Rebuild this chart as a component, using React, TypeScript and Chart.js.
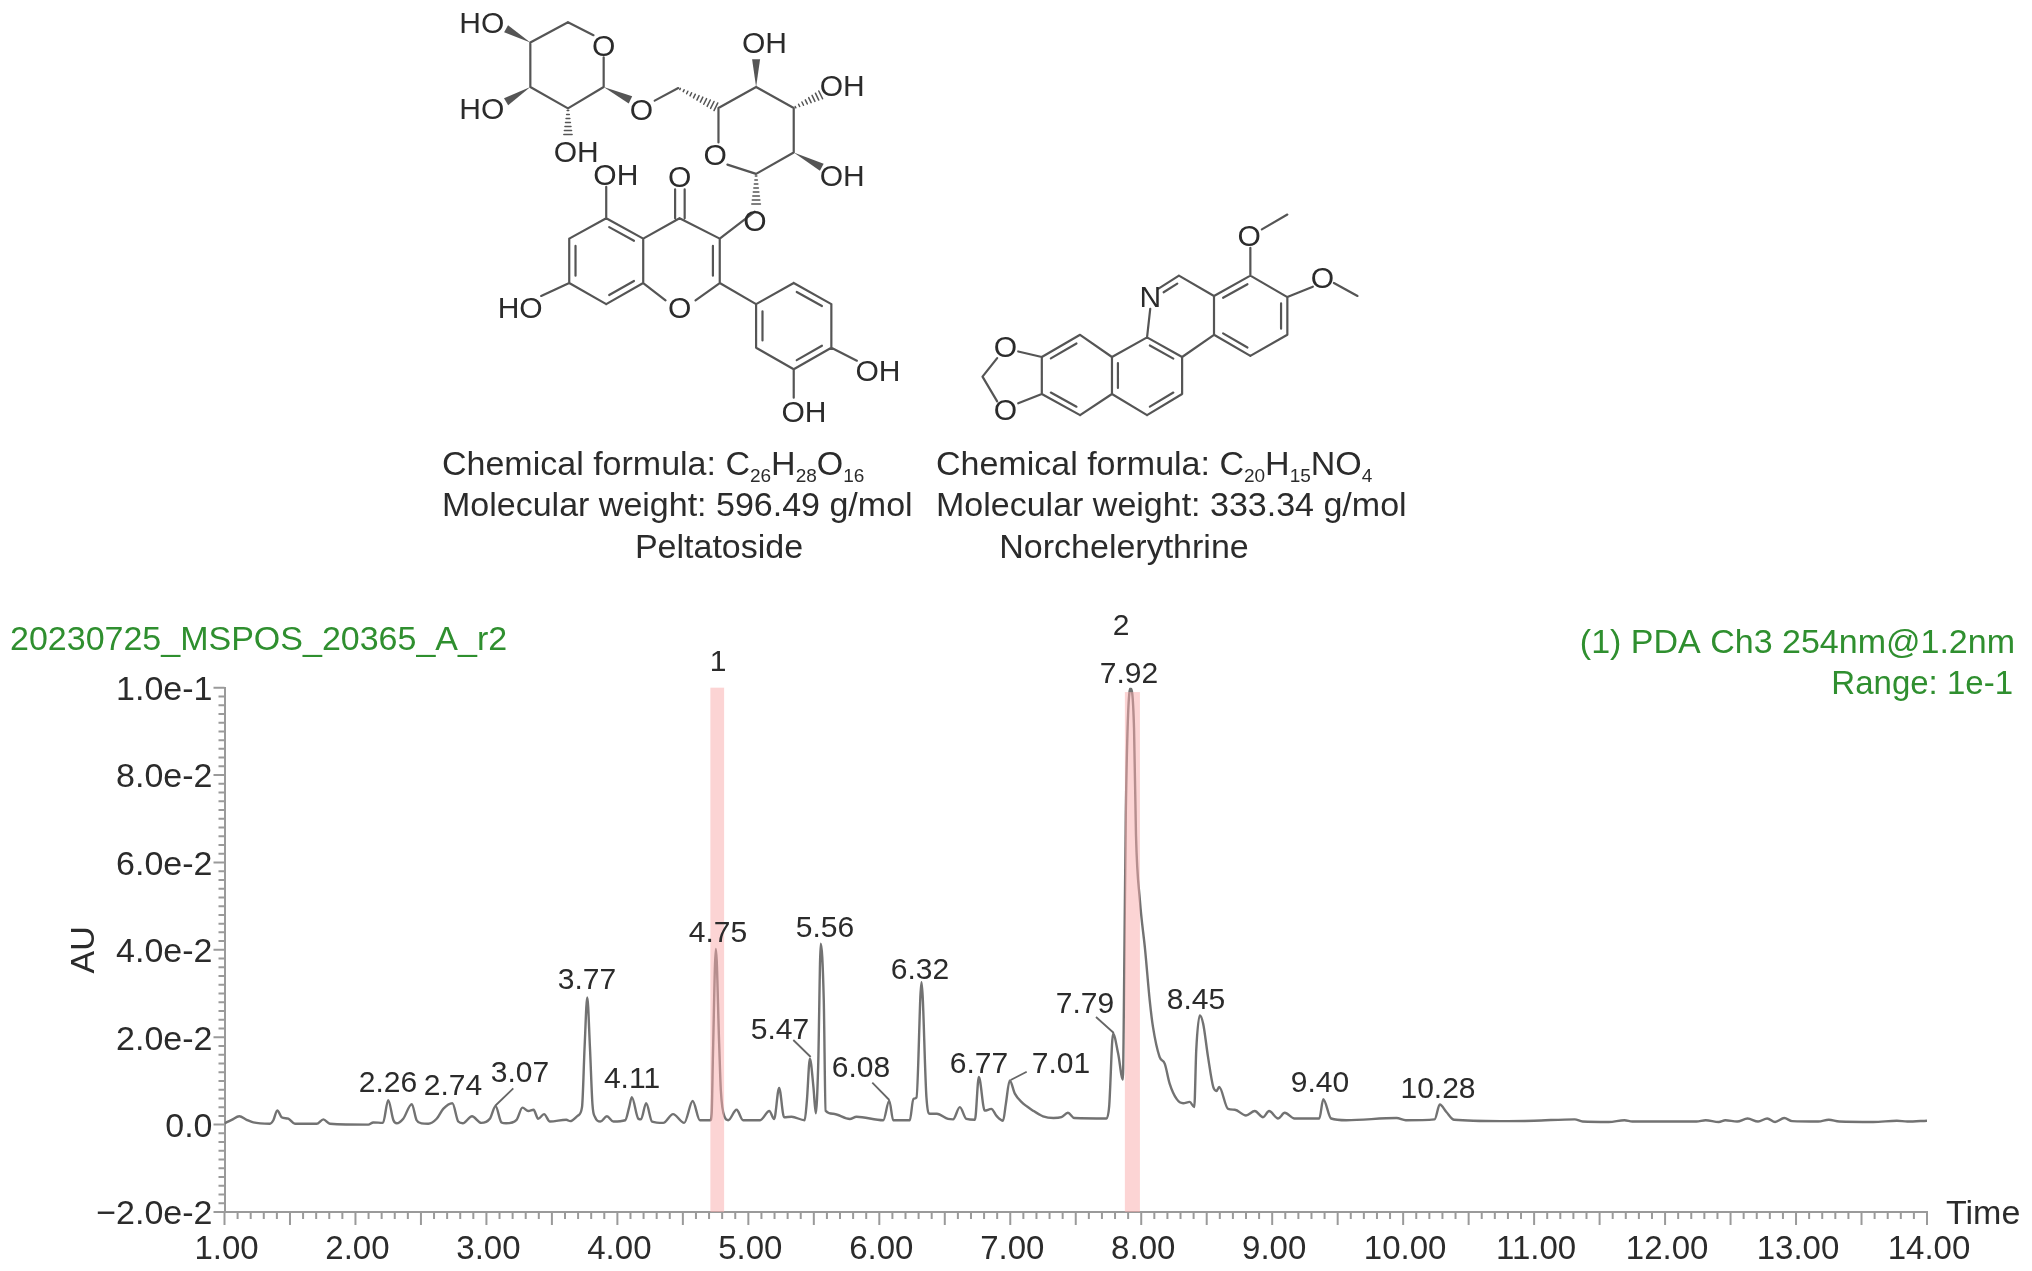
import React, { useEffect, useRef } from "react";
import { Chart, registerables } from "chart.js";

Chart.register(...registerables);

const FONT = '"Liberation Sans", Arial, sans-serif';

// ---------- data ----------
const times = [
  1.0, 1.055, 1.113, 1.169, 1.22, 1.347, 1.373, 1.403, 1.436, 1.487, 1.538, 1.704, 1.755, 1.805, 2.098, 2.136, 2.21, 2.25, 2.29, 2.315,
  2.365, 2.43, 2.467, 2.505, 2.556, 2.62, 2.67, 2.74, 2.785, 2.82, 2.89, 2.96, 3.026, 3.07, 3.115, 3.15, 3.23, 3.275, 3.32, 3.36,
  3.395, 3.44, 3.485, 3.61, 3.64, 3.7, 3.73, 3.75, 3.77, 3.79, 3.81, 3.83, 3.87, 3.92, 3.97, 4.06, 4.09, 4.11, 4.16, 4.18,
  4.22, 4.265, 4.35, 4.425, 4.51, 4.575, 4.63, 4.71, 4.72, 4.73, 4.752, 4.777, 4.79, 4.82, 4.846, 4.91, 4.96, 5.09, 5.16, 5.197,
  5.235, 5.273, 5.33, 5.43, 5.447, 5.47, 5.497, 5.515, 5.533, 5.553, 5.576, 5.59, 5.647, 5.775, 5.826, 6.03, 6.076, 6.106, 6.233, 6.26,
  6.284, 6.322, 6.36, 6.385, 6.44, 6.525, 6.563, 6.615, 6.665, 6.73, 6.76, 6.805, 6.855, 6.895, 6.945, 6.966, 6.996, 7.035, 7.085, 7.174,
  7.25, 7.33, 7.39, 7.44, 7.49, 7.735, 7.755, 7.785, 7.824, 7.86, 7.866, 7.882, 7.918, 7.945, 7.96, 7.99, 8.03, 8.065, 8.09, 8.14,
  8.18, 8.217, 8.27, 8.32, 8.37, 8.405, 8.42, 8.447, 8.473, 8.51, 8.55, 8.575, 8.595, 8.663, 8.715, 8.8, 8.867, 8.93, 8.976, 9.045,
  9.096, 9.17, 9.36, 9.39, 9.45, 9.566, 9.95, 10.02, 10.24, 10.28, 10.33, 10.39, 10.74, 11.0, 11.31, 11.37, 11.57, 11.69, 11.75, 12.24,
  12.31, 12.41, 12.46, 12.55, 12.63, 12.71, 12.78, 12.84, 12.91, 12.97, 13.17, 13.25, 13.33, 13.59, 13.77, 13.85, 14.0,
];
const absorbance = [
  0.0003, 0.0011, 0.0019, 0.0011, 0.0005, 0.0002, 0.001, 0.00325, 0.0017, 0.00135, 0.0002, 0.0002, 0.0012, 0.0002, 0.0, 0.0005, 0.0004, 0.0056, 0.001, 0.0003,
  0.00135, 0.0047, 0.001, 0.0003, 0.0002, 0.00135, 0.0036, 0.0049, 0.0007, 0.0003, 0.0019, 0.0004, 0.00135, 0.0042, 0.0005, 0.0003, 0.0011, 0.0039, 0.0031, 0.0034,
  0.00135, 0.0024, 0.0007, 0.0011, 0.0008, 0.0021, 0.004, 0.018, 0.0291, 0.018, 0.0045, 0.0017, 0.0007, 0.0019, 0.0007, 0.001, 0.004, 0.0063, 0.00135, 0.0012,
  0.0049, 0.0007, 0.0004, 0.0024, 0.0004, 0.0054, 0.001, 0.001, 0.0026, 0.0163, 0.0402, 0.0186, 0.0078, 0.0017, 0.001, 0.0034, 0.001, 0.001, 0.0031, 0.0013,
  0.0084, 0.0017, 0.0018, 0.001, 0.0055, 0.0151, 0.0086, 0.0026, 0.0132, 0.0414, 0.0284, 0.0032, 0.0025, 0.0013, 0.0018, 0.001, 0.0055, 0.001, 0.001, 0.0059,
  0.0062, 0.0326, 0.0062, 0.0025, 0.0025, 0.0013, 0.0012, 0.004, 0.0013, 0.0011, 0.0109, 0.0032, 0.0036, 0.002, 0.0009, 0.0047, 0.0101, 0.0071, 0.0052, 0.0032,
  0.0019, 0.0015, 0.0017, 0.0027, 0.0015, 0.0014, 0.0041, 0.0208, 0.0162, 0.0103, 0.022, 0.071, 0.0999, 0.0907, 0.0662, 0.0513, 0.0399, 0.0284, 0.0223, 0.0155,
  0.0139, 0.0094, 0.0059, 0.0049, 0.0052, 0.004, 0.017, 0.025, 0.0231, 0.0155, 0.0086, 0.0077, 0.0086, 0.0036, 0.0034, 0.0021, 0.0031, 0.0017, 0.0031, 0.0014,
  0.0027, 0.0014, 0.0014, 0.0058, 0.0014, 0.001, 0.0015, 0.001, 0.0012, 0.0046, 0.0029, 0.0011, 0.0008, 0.0009, 0.0012, 0.0007, 0.0006, 0.001, 0.0007, 0.0007,
  0.001, 0.0006, 0.001, 0.0007, 0.0014, 0.0007, 0.0014, 0.0006, 0.0015, 0.0008, 0.0007, 0.0011, 0.0007, 0.0006, 0.0009, 0.0007, 0.0009,
];
const xTickLabels = ["1.00", "2.00", "3.00", "4.00", "5.00", "6.00", "7.00", "8.00", "9.00", "10.00", "11.00", "12.00", "13.00", "14.00"];
const yTickLabels = ["\u22122.0e-2", "0.0", "2.0e-2", "4.0e-2", "6.0e-2", "8.0e-2", "1.0e-1"];
const bandStart = [4.71, 7.875];
const bandEnd = [4.815, 7.99];
const bandTop = [0.1, 0.099];
const peakLabels = ["2.26", "2.74", "3.07", "3.77", "4.11", "4.75", "5.47", "5.56", "6.08", "6.32", "6.77", "7.01", "7.79", "7.92", "8.45", "9.40", "10.28"];
const titleLeft = "20230725_MSPOS_20365_A_r2";
const titleRight = "(1) PDA Ch3 254nm@1.2nm";
const rangeText = "Range: 1e-1";

// ---------- layout (pixels) ----------
const AREA = { left: 224.5, right: 1927, top: 687.7, bottom: 1212 };
const peakLabelPos = [
  [388, 1084], [453, 1087], [520, 1074], [587, 981], [632, 1080], [718, 934], [780, 1031], [825, 929], [861, 1069],
  [920, 971], [979, 1065], [1061, 1065], [1085, 1005], [1129, 675], [1196, 1001], [1320, 1084], [1438, 1090],
];
const leaders = [
  [513.3, 1088.3, 495, 1106],
  [793.3, 1040, 810.7, 1057],
  [872.3, 1082.7, 889.3, 1100],
  [1026.7, 1071.7, 1010.7, 1080],
  [1096, 1017, 1113.8, 1033],
];

const mx = (z: number) => 420 + z / 1.568;
const my = (z: number) => z / 2.703;
type Seg = number[];
const bonds: Seg[] = [
  [173, 115, 232, 60], [232, 60, 272, 95], [288, 155, 288, 235], [288, 235, 232, 293], [232, 293, 173, 235], [173, 235, 173, 115],
  [368, 272, 405, 238],
  [468, 292, 527, 235], [527, 235, 586, 292], [586, 292, 586, 412], [586, 412, 527, 470], [527, 470, 482, 445], [468, 385, 468, 292],
  [525, 572, 470, 645], [292, 590, 292, 505],
  [407, 590, 350, 645], [350, 645, 292, 590], [292, 590, 234, 645], [234, 645, 234, 765], [234, 765, 292, 822], [292, 822, 350, 765], [350, 765, 350, 645],
  [407, 590, 470, 645], [470, 645, 470, 765], [470, 765, 432, 812], [385, 812, 350, 765], [234, 765, 190, 800],
  [470, 765, 527, 822], [527, 822, 586, 765], [586, 765, 645, 822], [645, 822, 645, 940], [645, 940, 586, 998], [586, 998, 527, 940], [527, 940, 527, 822],
  [645, 940, 685, 975], [586, 998, 586, 1075],
  [400, 590, 400, 512], [415, 590, 415, 512],
  [1320, 620, 1360, 580], [1302, 670, 1302, 745], [1302, 745, 1360, 803], [1360, 803, 1360, 905], [1360, 905, 1302, 962], [1302, 962, 1245, 905], [1245, 905, 1245, 800], [1245, 800, 1302, 745],
  [1360, 803, 1400, 775], [1433, 765, 1470, 800], [1245, 800, 1190, 745], [1190, 745, 1158, 780], [1145, 835, 1140, 912],
  [1140, 912, 1195, 965], [1245, 905, 1195, 965], [1195, 965, 1195, 1065], [1195, 1065, 1140, 1122], [1140, 1122, 1085, 1065], [1085, 1065, 1085, 965], [1085, 965, 1140, 912],
  [1085, 965, 1035, 905], [1035, 905, 975, 965], [975, 965, 975, 1065], [975, 1065, 1035, 1122], [1035, 1122, 1085, 1065],
  [975, 965, 938, 950], [975, 1065, 938, 1090], [905, 968, 882, 1018], [905, 1085, 882, 1018],
];
const doubles: Seg[] = [
  [234, 645, 234, 765, 292, 705], [292, 822, 350, 765, 292, 705], [350, 645, 292, 590, 292, 705], [470, 645, 470, 765, 407, 705],
  [586, 765, 645, 822, 586, 880], [645, 940, 586, 998, 586, 880], [527, 940, 527, 822, 586, 880],
  [1245, 800, 1302, 745, 1302, 855], [1360, 803, 1360, 905, 1302, 855], [1302, 962, 1245, 905, 1302, 855],
  [1190, 745, 1158, 780, 1190, 855],
  [1140, 912, 1195, 965, 1140, 1015], [1195, 1065, 1140, 1122, 1140, 1015], [1085, 1065, 1085, 965, 1140, 1015],
  [1035, 905, 975, 965, 1030, 1015], [975, 1065, 1035, 1122, 1030, 1015],
];
const solidWedges: Seg[] = [
  [173, 115, 135, 78], [173, 235, 135, 275], [288, 235, 330, 270], [527, 235, 527, 160], [586, 412, 630, 452],
];
const hashWedges: Seg[] = [
  [232, 293, 232, 370], [405, 238, 468, 292], [586, 292, 630, 255], [527, 470, 527, 555],
];
const atomLabels: [string, number, number][] = [
  ["HO", 97, 68], ["O", 288, 130], ["HO", 97, 298], ["OH", 245, 415], ["O", 347, 301], ["OH", 540, 121], ["OH", 662, 238], ["O", 463, 423], ["OH", 662, 481],
  ["OH", 307, 478], ["O", 407, 483], ["O", 525, 601], ["HO", 157, 838], ["O", 407, 838], ["OH", 718, 1008], ["OH", 602, 1118],
  ["O", 1300, 643], ["O", 1415, 755], ["N", 1145, 808], ["O", 918, 943], ["O", 918, 1113],
];
const compoundLeft = { x: 442, lines: ["Molecular weight: 596.49 g/mol"], name: "Peltatoside", nameX: 719, formula: ["C", "26", "H", "28", "O", "16"] };
const compoundRight = { x: 936, lines: ["Molecular weight: 333.34 g/mol"], name: "Norchelerythrine", nameX: 1124, formula: ["C", "20", "H", "15", "NO", "4"] };

function drawCompound(ctx: CanvasRenderingContext2D, c: typeof compoundLeft) {
  ctx.fillStyle = "#2b2b2b";
  ctx.textBaseline = "middle";
  ctx.textAlign = "left";
  ctx.font = `34px ${FONT}`;
  const head = "Chemical formula: ";
  ctx.fillText(head, c.x, 465.5);
  let x = c.x + ctx.measureText(head).width;
  c.formula.forEach((part, i) => {
    const sub = i % 2 === 1;
    ctx.font = sub ? `19px ${FONT}` : `34px ${FONT}`;
    ctx.fillText(part, x, sub ? 477 : 465.5);
    x += ctx.measureText(part).width;
  });
  ctx.font = `34px ${FONT}`;
  ctx.fillText(c.lines[0], c.x, 506.5);
  ctx.textAlign = "center";
  ctx.fillText(c.name, c.nameX, 548.5);
}

const sketchPlugin = {
  id: "sketch",
  afterDraw(chart: any) {
    const ctx: CanvasRenderingContext2D = chart.ctx;
    const xs = chart.scales.x;
    const ys = chart.scales.y;
    ctx.save();

    ctx.strokeStyle = "#9a9a9a";
    ctx.lineWidth = 2;
    ctx.beginPath();
    for (let i = 0; i <= 130; i++) {
      const px = xs.getPixelForValue(1 + i / 10);
      ctx.moveTo(px, AREA.bottom);
      ctx.lineTo(px, AREA.bottom + (i % 5 === 0 ? 13 : 7));
    }
    for (let i = 0; i <= 60; i++) {
      const py = ys.getPixelForValue(-0.02 + i * 0.002);
      ctx.moveTo(AREA.left, py);
      ctx.lineTo(AREA.left - (i % 10 === 0 ? 11 : 6), py);
    }
    ctx.stroke();

    ctx.fillStyle = "rgba(250,170,170,0.5)";
    bandStart.forEach((s, i) => {
      const l = xs.getPixelForValue(s);
      const r = xs.getPixelForValue(bandEnd[i]);
      const t = ys.getPixelForValue(bandTop[i]);
      ctx.fillRect(l, t, r - l, AREA.bottom - t);
    });

    ctx.fillStyle = "#2b2b2b";
    ctx.textAlign = "center";
    ctx.textBaseline = "middle";
    ctx.font = `30px ${FONT}`;
    peakLabels.forEach((t, i) => ctx.fillText(t, peakLabelPos[i][0], peakLabelPos[i][1]));
    ctx.fillText("1", 718, 663);
    ctx.fillText("2", 1121, 627);
    ctx.strokeStyle = "#666666";
    ctx.lineWidth = 1.8;
    ctx.beginPath();
    leaders.forEach((l) => {
      ctx.moveTo(l[0], l[1]);
      ctx.lineTo(l[2], l[3]);
    });
    ctx.stroke();

    ctx.font = `34px ${FONT}`;
    ctx.textAlign = "left";
    ctx.fillStyle = "#2b2b2b";
    ctx.fillText("Time", 1946, 1215);
    ctx.fillStyle = "#2f8f2f";
    ctx.font = `34px ${FONT}`;
    ctx.fillText(titleLeft, 10, 640.5);
    ctx.textAlign = "right";
    ctx.fillText(titleRight, 2015, 643.5);
    ctx.font = `33px ${FONT}`;
    ctx.fillText(rangeText, 2013, 684.5);

    ctx.strokeStyle = "#555555";
    ctx.fillStyle = "#555555";
    ctx.lineWidth = 2.2;
    ctx.lineCap = "round";
    ctx.beginPath();
    bonds.forEach((b) => {
      ctx.moveTo(mx(b[0]), my(b[1]));
      ctx.lineTo(mx(b[2]), my(b[3]));
    });
    doubles.forEach((d) => {
      const ax = mx(d[0]), ay = my(d[1]), bx = mx(d[2]), by = my(d[3]), cx = mx(d[4]), cy = my(d[5]);
      const k = 0.17;
      ctx.moveTo(ax + (cx - ax) * k + (bx - ax) * 0.08, ay + (cy - ay) * k + (by - ay) * 0.08);
      ctx.lineTo(bx + (cx - bx) * k - (bx - ax) * 0.08, by + (cy - by) * k - (by - ay) * 0.08);
    });
    ctx.stroke();
    solidWedges.forEach((w) => {
      const ax = mx(w[0]), ay = my(w[1]), bx = mx(w[2]), by = my(w[3]);
      const len = Math.hypot(bx - ax, by - ay);
      const nx = (-(by - ay) / len) * 4, ny = ((bx - ax) / len) * 4;
      ctx.beginPath();
      ctx.moveTo(ax, ay);
      ctx.lineTo(bx + nx, by + ny);
      ctx.lineTo(bx - nx, by - ny);
      ctx.closePath();
      ctx.fill();
    });
    ctx.lineWidth = 1.5;
    hashWedges.forEach((w) => {
      const ax = mx(w[0]), ay = my(w[1]), bx = mx(w[2]), by = my(w[3]);
      const len = Math.hypot(bx - ax, by - ay);
      const ux = (bx - ax) / len, uy = (by - ay) / len;
      ctx.beginPath();
      for (let d = 2; d <= len; d += 4) {
        const h = 0.5 + (d / len) * 4;
        ctx.moveTo(ax + ux * d - uy * h, ay + uy * d + ux * h);
        ctx.lineTo(ax + ux * d + uy * h, ay + uy * d - ux * h);
      }
      ctx.stroke();
    });
    ctx.fillStyle = "#2b2b2b";
    ctx.font = `30px ${FONT}`;
    ctx.textAlign = "center";
    ctx.textBaseline = "middle";
    atomLabels.forEach(([t, x, y]) => ctx.fillText(t, mx(x), my(y)));
    drawCompound(ctx, compoundLeft);
    drawCompound(ctx, compoundRight);
    ctx.restore();
  },
};

export default function App() {
  const ref = useRef<HTMLCanvasElement | null>(null);
  useEffect(() => {
    if (!ref.current) return;
    const chart = new Chart(ref.current, {
      type: "line",
      data: {
        datasets: [
          {
            label: "PDA Ch3 254nm",
            data: times.map((t, i) => ({ x: t, y: absorbance[i] })),
            borderColor: "#727272",
            borderWidth: 2.4,
            pointRadius: 0,
            cubicInterpolationMode: "monotone",
          },
        ],
      },
      options: {
        animation: false,
        responsive: false,
        events: [],
        layout: { padding: { left: 0, top: AREA.top, right: 2032 - AREA.right, bottom: 0 } },
        plugins: { legend: { display: false }, tooltip: { enabled: false }, title: { display: false } },
        scales: {
          x: {
            type: "linear",
            min: 1,
            max: 14,
            grid: { display: false, drawTicks: false },
            border: { display: true, color: "#9a9a9a", width: 2 },
            ticks: {
              stepSize: 1,
              autoSkip: false,
              maxRotation: 0,
              padding: 18,
              labelOffset: 2,
              color: "#2b2b2b",
              font: { family: FONT, size: 33 },
              callback: (_v: any, i: number) => xTickLabels[i],
            },
            afterFit: (s: any) => {
              s.height = 1271 - AREA.bottom;
            },
          },
          y: {
            type: "linear",
            min: -0.02,
            max: 0.1,
            grid: { display: false, drawTicks: false },
            border: { display: true, color: "#9a9a9a", width: 2 },
            title: { display: true, text: "AU", color: "#2b2b2b", font: { family: FONT, size: 34 }, padding: { top: 64, bottom: 0 } },
            ticks: {
              stepSize: 0.02,
              autoSkip: false,
              padding: 12,
              labelOffset: 3,
              color: "#2b2b2b",
              font: { family: FONT, size: 34 },
              callback: (_v: any, i: number) => yTickLabels[i],
            },
            afterFit: (s: any) => {
              s.width = AREA.left;
            },
          },
        },
      },
      plugins: [sketchPlugin],
    } as any);
    return () => chart.destroy();
  }, []);
  return (
    <div style={{ position: "absolute", left: 0, top: 0, width: 2032, height: 1271, background: "#fff" }}>
      <canvas ref={ref} width={2032} height={1271} style={{ display: "block", filter: "blur(0.6px)" }} />
    </div>
  );
}
